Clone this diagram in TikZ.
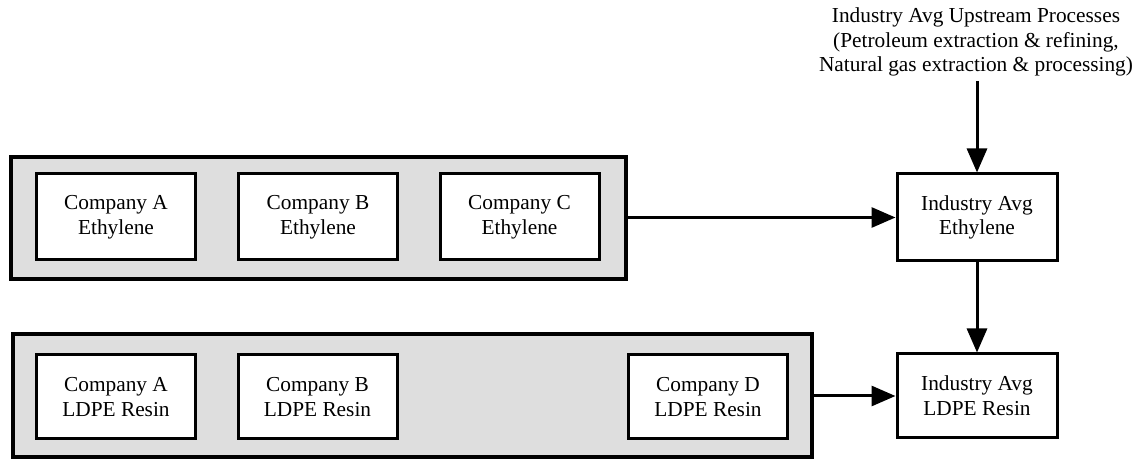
\documentclass[tikz,border=0pt]{standalone}
\usepackage{fontspec}
\setmainfont{Liberation Serif}
\usetikzlibrary{arrows.meta}
\definecolor{panelgray}{RGB}{222,222,222}
\begin{document}
\begin{tikzpicture}[x=0.75pt,y=-0.75pt,
  txt/.style={font=\fontsize{16}{18.6}\selectfont, align=center},
  panel/.style={draw=black, fill=panelgray, line width=3pt, inner sep=0pt},
  unitbox/.style={txt, draw=black, fill=white, line width=2.25pt, inner sep=0pt,
                  minimum width=119.25pt},
  flow/.style={line width=2.25pt, -{Triangle[length=18pt,width=15pt]}}]
  \useasboundingbox (0,0) rectangle (1143,459);

  % grouping panels
  \node[panel, minimum width=461.25pt, minimum height=91.5pt] (ethpanel) at (318.5,218) {};
  \node[panel, minimum width=599.25pt, minimum height=92.25pt] (ldpepanel) at (412.5,395.5) {};

  % company ethylene units
  \node[unitbox, minimum height=64.5pt] (ethA) at (116,217) {Company A\\Ethylene};
  \node[unitbox, minimum height=64.5pt] (ethB) at (318,217) {Company B\\Ethylene};
  \node[unitbox, minimum height=64.5pt] (ethC) at (519.5,217) {Company C\\Ethylene};

  % company LDPE units
  \node[unitbox, minimum height=63pt] (ldpeA) at (116,397) {Company A\\LDPE Resin};
  \node[unitbox, minimum height=63pt] (ldpeB) at (317.5,397) {Company B\\LDPE Resin};
  \node[unitbox, minimum height=63pt] (ldpeD) at (708,397) {Company D\\LDPE Resin};

  % industry averages
  \node[unitbox, minimum width=120pt, minimum height=65.25pt] (avgEth) at (977,217.5) {Industry Avg\\Ethylene};
  \node[unitbox, minimum width=120pt, minimum height=63pt] (avgLdpe) at (977,396) {Industry Avg\\LDPE Resin};

  % upstream processes
  \node[txt, inner sep=0pt] (upstream) at (976,42) {Industry Avg Upstream Processes\\(Petroleum extraction \& refining,\\Natural gas extraction \& processing)};
  \coordinate (upfoot) at (977,81);

  % flows
  \draw[flow] (upfoot) -- (avgEth.north);
  \draw[flow] (avgEth.south) -- (avgLdpe.north);
  \draw[flow] (ethpanel.east |- avgEth.west) -- (avgEth.west);
  \draw[flow] (ldpepanel.east |- avgLdpe.west) -- (avgLdpe.west);
\end{tikzpicture}
\end{document}
